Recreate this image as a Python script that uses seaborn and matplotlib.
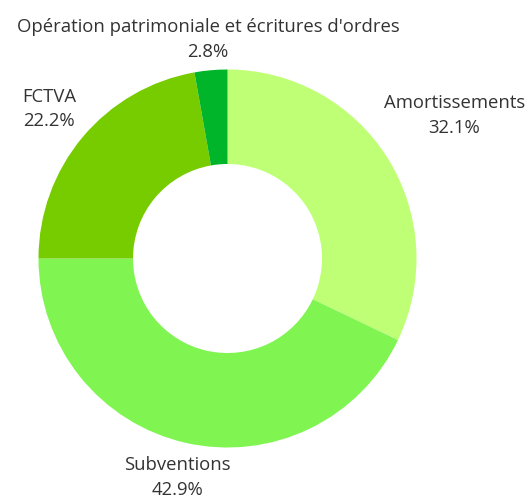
import matplotlib
matplotlib.use("Agg")
import matplotlib.pyplot as plt
import seaborn as sns
import numpy as np

# Données
categories = ["Amortissements", "Subventions", "FCTVA",
              "Opération patrimoniale et écritures d'ordres"]
valeurs = [32.1, 42.9, 22.2, 2.8]
couleurs = ["#bfff75", "#80f552", "#77cc00", "#00b52a"]

sns.set_theme(style="white")
plt.rcParams['font.family'] = ['Open Sans', 'DejaVu Sans']

W, H = 530, 497
fig = plt.figure(figsize=(W / 100, H / 100), dpi=100)
ax = fig.add_axes([0, 0, 1, 1])

cx, cy = 227.5, H - 258.5
R = 189

wedges, _ = ax.pie(valeurs, colors=couleurs, startangle=90, counterclock=False,
                   radius=R, center=(cx, cy), frame=True,
                   wedgeprops=dict(width=R * 0.5, linewidth=0))
ax.set_xlim(0, W)
ax.set_ylim(0, H)
ax.set_aspect('equal')
ax.axis('off')

fig.canvas.draw()
renderer = fig.canvas.get_renderer()
gap = 9

for w, cat, v in zip(wedges, categories, valeurs):
    ang = np.deg2rad((w.theta1 + w.theta2) / 2)
    dx, dy = np.cos(ang), np.sin(ang)
    t = ax.text(cx, cy, f"{cat}\n{v}%", ha='center', va='center',
                fontsize=13.3, color='#333333', linespacing=1.45)
    bb = t.get_window_extent(renderer=renderer)
    hw, hh = bb.width / 2, bb.height / 2
    # distance pour que le bord du texte soit à R + gap
    lo, hi = 0.0, 600.0
    for _ in range(60):
        mid = (lo + hi) / 2
        nx = max(abs(mid * dx) - hw, 0)
        ny = max(abs(mid * dy) - hh, 0)
        if np.hypot(nx, ny) < R + gap:
            lo = mid
        else:
            hi = mid
    t.set_position((cx + lo * dx, cy + lo * dy))

fig.savefig("out.png", dpi=100)
